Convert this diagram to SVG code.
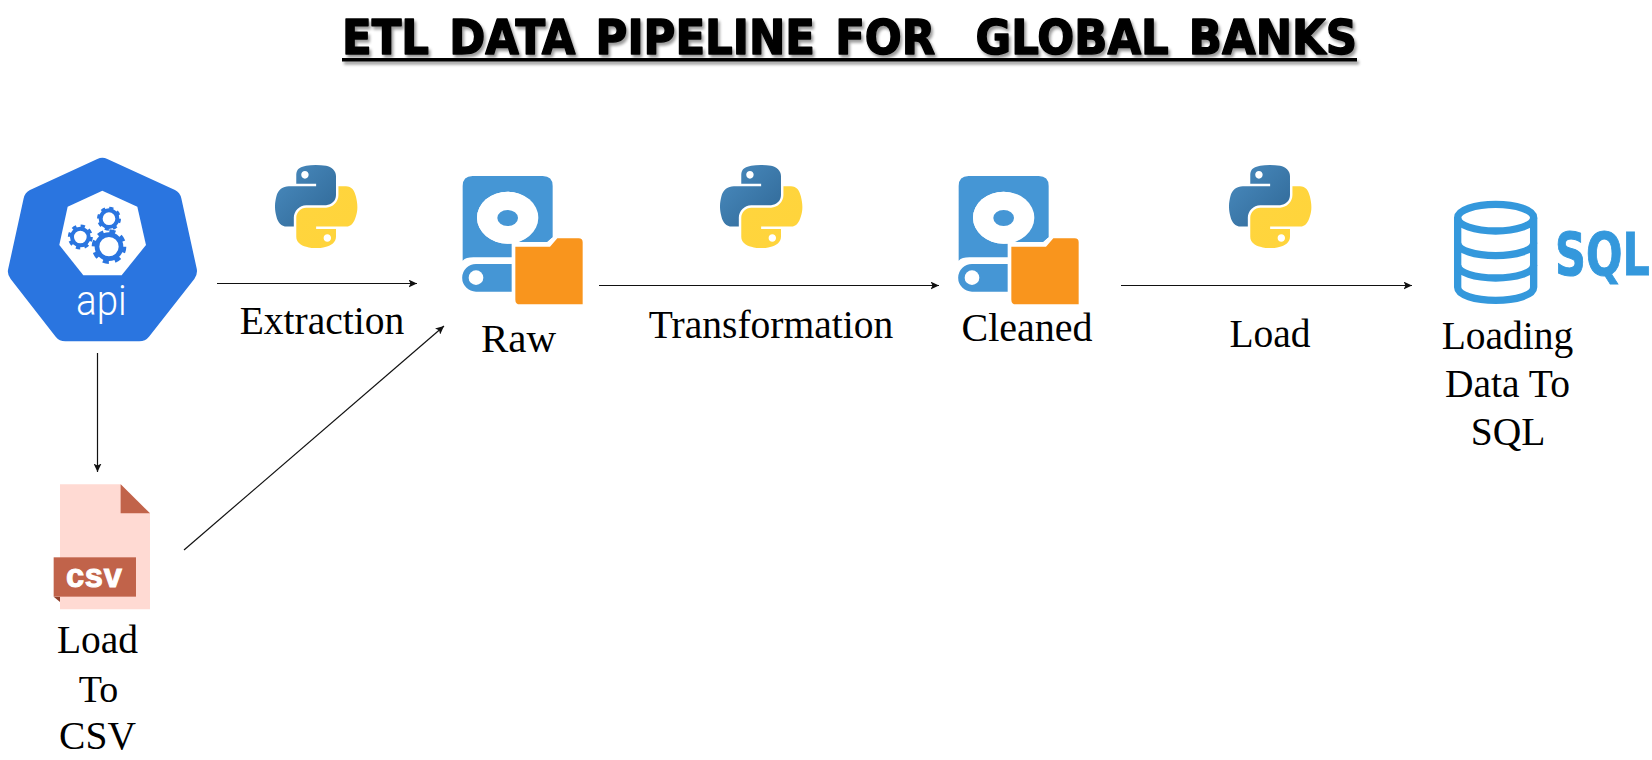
<svg xmlns="http://www.w3.org/2000/svg" width="1652" height="760" viewBox="0 0 1652 760">
<style>
.lbl{font-family:"Liberation Serif","Times New Roman",serif;font-size:39.5px;fill:#000;text-anchor:middle}
.conn{stroke:#111;stroke-width:1.2;fill:none;marker-end:url(#arrow)}
.title{font-family:"DejaVu Sans",sans-serif;font-weight:bold;font-size:48px;word-spacing:5.5px;fill:#000;stroke:#000;stroke-width:1.5;stroke-linejoin:round}
</style>
<defs>
<marker id="arrow" markerUnits="userSpaceOnUse" markerWidth="10" markerHeight="8" refX="8.5" refY="4" orient="auto"><path d="M0 0L8.5 4L0 8L2 4Z" fill="#111"/></marker>
<filter id="shadow" x="-2%" y="-30%" width="104%" height="170%"><feGaussianBlur in="SourceAlpha" stdDeviation="1.6"/><feOffset dx="2" dy="3"/><feComponentTransfer><feFuncA type="linear" slope="0.4"/></feComponentTransfer><feMerge><feMergeNode/><feMergeNode in="SourceGraphic"/></feMerge></filter>
<linearGradient id="pb" x1="0" y1="0" x2="1" y2="1"><stop offset="0" stop-color="#4a8cc0"/><stop offset="1" stop-color="#2f6795"/></linearGradient>
<linearGradient id="py" x1="0" y1="0" x2="1" y2="1"><stop offset="0" stop-color="#ffd53e"/><stop offset="1" stop-color="#ffd43b"/></linearGradient>
<symbol id="python" viewBox="0 0 112 112">
<path fill="url(#pb)" d="M54.9 0C50.3 0 46 .4 42.1 1.1 30.8 3.1 28.7 7.3 28.7 15V25.3H55.5V28.7H18.6C10.8 28.7 4 33.4 1.9 42.300C-.6 52.500-.7 58.900 1.900 69.500 3.800 77.500 8.300 83.100 16.100 83.100H25.400V70.900C25.400 62 33 54.200 42.100 54.200H68.900C76.300 54.200 82.300 48.100 82.300 40.600V15C82.300 7.800 76.200 2.300 68.900 1.100 64.300.3 59.500 0 54.900 0ZM40.400 8.200C43.200 8.200 45.400 10.500 45.400 13.300 45.400 16.100 43.200 18.400 40.400 18.400 37.600 18.400 35.400 16.100 35.400 13.300 35.400 10.500 37.600 8.200 40.400 8.200Z"/>
<path fill="url(#py)" d="M85.600 28.700V40.600C85.600 49.800 77.800 57.600 68.900 57.600H42.100C34.800 57.600 28.700 63.800 28.700 71.200V96.700C28.700 104 35 108.300 42.100 110.400 50.600 112.900 58.700 113.300 68.900 110.400 75.600 108.400 82.300 104.500 82.300 96.700V86.500H55.500V83.100H95.700C103.500 83.100 106.400 77.700 109.100 69.500 111.900 61.100 111.800 53 109.100 42.300 107.200 34.500 103.500 28.700 95.700 28.700ZM70.600 93.300C73.400 93.300 75.600 95.600 75.600 98.400 75.600 101.200 73.400 103.500 70.600 103.500 67.800 103.500 65.600 101.200 65.600 98.400 65.600 95.600 67.800 93.300 70.600 93.300Z"/>
</symbol>
<symbol id="disk" viewBox="0 0 600 660">
<path fill="#4596d5" d="M98 108H308Q338 108 338 138V292L322 306H232A92 78 0 0 0 203 155A92 78 0 0 0 203 311H215V352H100Q78 352 68 362V138Q68 108 98 108Z"/>
<path fill="#fff" d="M203 155A92 78 0 1 0 203 311A92 78 0 1 0 203 155Z"/>
<ellipse cx="203" cy="234" rx="31" ry="24" fill="#4596d5"/>
<path fill="#fff" d="M322 306L338 292V300L322 319H226V306Z"/>
<path fill="#4596d5" d="M108 372H215V455H108A41.500 41.500 0 0 1 108 372Z"/>
<circle cx="108" cy="413" r="22" fill="#fff"/>
<path fill="#f9951d" d="M226 320H330L352 295H416Q428 295 428 307V493H240Q226 493 226 479Z"/>
</symbol>
</defs>

<g id="title">
<g filter="url(#shadow)">
<text class="title" x="342" y="54" textLength="1015" lengthAdjust="spacingAndGlyphs" xml:space="preserve">ETL DATA PIPELINE FOR  GLOBAL BANKS</text>
<rect x="342" y="58" width="1015" height="3.500" fill="#000"/>
</g>
</g>

<g id="connectors">
<line class="conn" x1="217" y1="283.500" x2="417" y2="283.500"/>
<line class="conn" x1="97.500" y1="353" x2="97.500" y2="472"/>
<line class="conn" x1="184" y1="550" x2="444" y2="326"/>
<line class="conn" x1="599" y1="285.500" x2="939" y2="285.500"/>
<line class="conn" x1="1121" y1="285.500" x2="1412" y2="285.500"/>
</g>

<g id="node-api" transform="translate(0 130) scale(.3333)">
<path fill="#2a75e0" d="M292 87Q307 79 322 87L525 180Q540 187 544 205L590 415Q594 432 583 447L447 620Q436 634 418 634L196 634Q178 634 167 620L32 447Q20 432 25 415L71 205Q75 187 90 180Z"/>
<path fill="#fff" d="M307 182L412 230L438 345L365 436H250L178 345L203 230Z"/>
<g fill="none" stroke="#2a75e0">
<circle cx="327" cy="350" r="36" stroke-width="14"/>
<circle cx="327" cy="350" r="46" stroke-width="12" stroke-dasharray="18 18.100"/>
<circle cx="241" cy="321" r="25" stroke-width="12"/>
<circle cx="241" cy="321" r="33" stroke-width="9" stroke-dasharray="13 12.900"/>
<circle cx="327" cy="266" r="25" stroke-width="12"/>
<circle cx="327" cy="266" r="32" stroke-width="8" stroke-dasharray="12.500 12.600"/>
</g>
<text x="304" y="555" font-family="Roboto,&quot;Liberation Sans&quot;,sans-serif" font-weight="300" font-size="126" fill="#fff" text-anchor="middle" textLength="152" lengthAdjust="spacingAndGlyphs">api</text>
</g>

<g id="node-extraction">
<use href="#python" x="275" y="165" width="83" height="83"/>
<text class="lbl" x="322" y="334">Extraction</text>
</g>

<g id="node-raw">
<use href="#disk" x="440" y="140" width="200" height="220"/>
<text class="lbl" x="518.500" y="352" style="font-size:41px">Raw</text>
</g>

<g id="node-transformation">
<use href="#python" x="720" y="165" width="83" height="83"/>
<text class="lbl" x="771" y="338">Transformation</text>
</g>

<g id="node-cleaned">
<use href="#disk" x="936" y="140" width="200" height="220"/>
<text class="lbl" x="1027" y="341" style="font-size:40px">Cleaned</text>
</g>

<g id="node-load">
<use href="#python" x="1229" y="165" width="83" height="83"/>
<text class="lbl" x="1270" y="347">Load</text>
</g>

<g id="node-sql">
<g transform="translate(1400 170) scale(.3333)">
<g fill="none" stroke="#3498dc" stroke-width="22">
<ellipse cx="287" cy="143" rx="114" ry="40"/>
<path d="M173 143V352C173 375 225 391 287 391S401 375 401 352V143"/>
<path d="M173 218C173 241 225 257 287 257S401 241 401 218"/>
<path d="M173 285C173 308 225 324 287 324S401 308 401 285"/>
</g>
</g>
<text transform="translate(1555 275) scale(.74 1)" x="0" y="0" font-family="&quot;DejaVu Sans&quot;,sans-serif" font-weight="bold" font-size="58" fill="#3498dc" stroke="#3498dc" stroke-width="1">SQL</text>
<text class="lbl" x="1507.500" y="349">Loading</text>
<text class="lbl" x="1507.500" y="397">Data To</text>
<text class="lbl" x="1508" y="445">SQL</text>
</g>

<g id="node-csv">
<g transform="translate(0 460) scale(.3333)">
<path fill="#ffdad3" d="M180 73H362L450 160V448H180Z"/>
<path fill="#c1634a" d="M362 73L450 160H362Z"/>
<path fill="#8f3f2b" d="M161 410H180V426Z"/>
<rect x="161" y="292" width="247" height="118" fill="#c1634a"/>
<text x="198" y="380" font-family="&quot;Liberation Sans&quot;,sans-serif" font-weight="bold" font-size="98" letter-spacing="2" fill="#fff" stroke="#fff" stroke-width="3">csv</text>
</g>
<text class="lbl" x="97.500" y="653">Load</text>
<text class="lbl" x="98.500" y="702" style="font-size:38px">To</text>
<text class="lbl" x="97.500" y="749">CSV</text>
</g>
</svg>
